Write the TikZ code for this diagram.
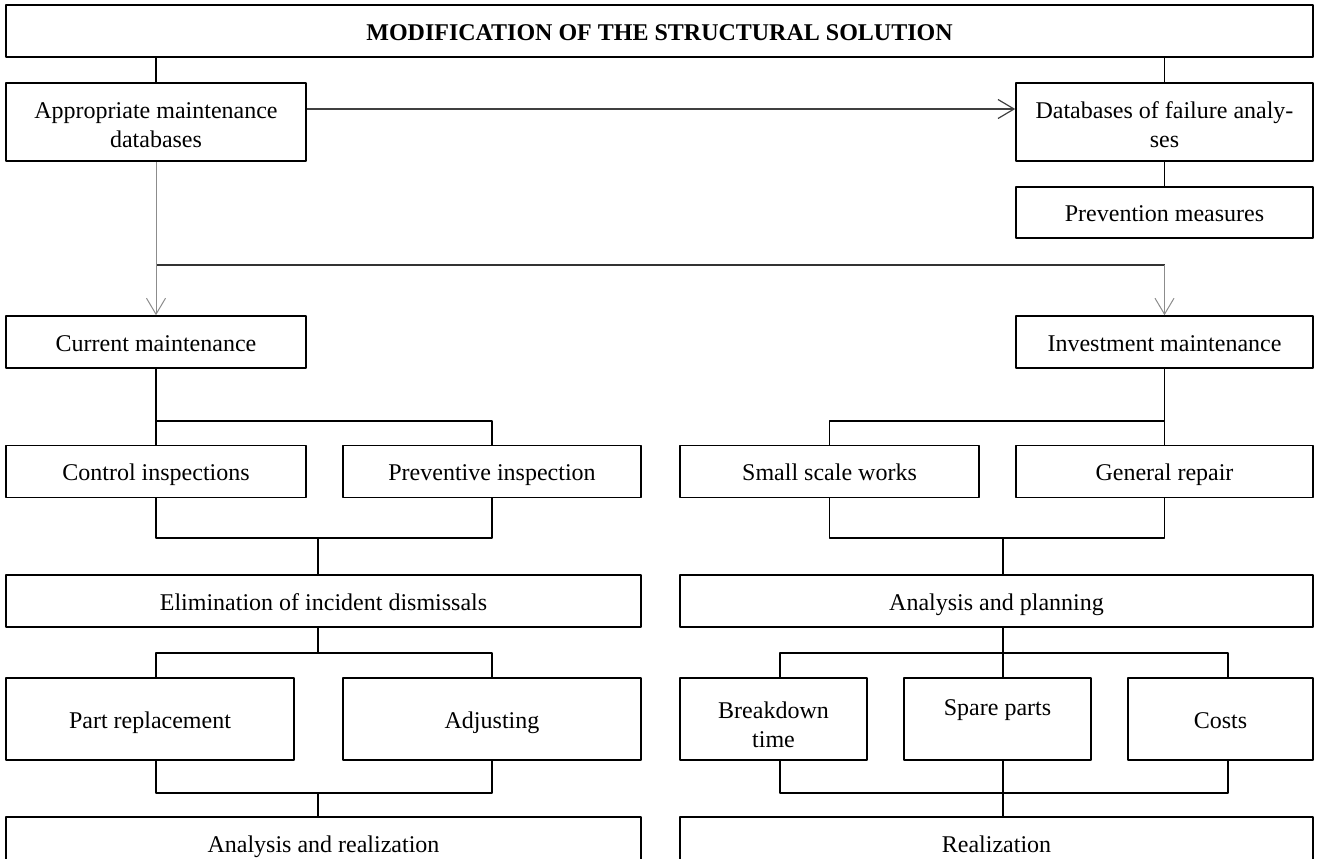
\documentclass[tikz,border=0pt]{standalone}
\usepackage{fontspec}
\setmainfont{Liberation Serif}
\usetikzlibrary{arrows.meta}
\newcommand\tru{\rule[-3pt]{0pt}{15pt}}
\begin{document}
\begin{tikzpicture}[x=.5pt, y=-.5pt, font=\fontsize{12}{14.5}\selectfont, line join=round, >={Straight Barb[length=8pt,width=9.5pt]}]
	\tikzset{hop/.style={draw, line width=.8pt, inner sep=0pt, align=center, minimum height=26pt, execute at begin node=\tru},
		noi/.style={line width=.75pt},
		mui/.style={->, line width=.5pt, black!45}}
	\useasboundingbox (0,0) rectangle (1317,858);
	\def\hh{41pt} % tall boxes
	% boxes
	\node[hop, minimum width=653.5pt] (tit) at (659.5,31) {\textbf{MODIFICATION OF THE STRUCTURAL SOLUTION}};
	\node[hop, minimum width=150pt, minimum height=39pt] (appr) at (156,122) {\rule{0pt}{14pt}Appropriate maintenance\\databases};
	\node[hop, minimum width=148.5pt, minimum height=39pt] (dbf) at (1164.5,122) {\rule{0pt}{14pt}Databases of failure analy-\\ses};
	\node[hop, minimum width=148.5pt, minimum height=25.5pt] (prev) at (1164.5,212.5) {Prevention measures};
	\node[hop, minimum width=150pt] (cur) at (156,342) {Current maintenance};
	\node[hop, minimum width=148.5pt] (inv) at (1164.5,342) {Investment maintenance};
	\node[hop, minimum width=150pt] (ctrl) at (156,471.5) {Control inspections};
	\node[hop, minimum width=149pt] (pins) at (492,471.5) {Preventive inspection};
	\node[hop, minimum width=149.5pt] (small) at (829.5,471.5) {Small scale works};
	\node[hop, minimum width=148.5pt] (gen) at (1164.5,471.5) {General repair};
	\node[hop, minimum width=317.5pt] (elim) at (323.5,601) {Elimination of incident dismissals};
	\node[hop, minimum width=316.5pt] (anpl) at (996.5,601) {Analysis and planning};
	\node[hop, minimum width=144pt, minimum height=\hh] (part) at (150,719) {Part replacement};
	\node[hop, minimum width=149pt, minimum height=\hh] (adj) at (492,719) {Adjusting};
	\node[hop, minimum width=93.5pt, minimum height=\hh] (brk) at (773.5,719) {\raisebox{-2.5pt}[0pt][0pt]{\begin{tabular}{@{}c@{}}Breakdown\\time\end{tabular}}};
	\node[hop, minimum width=93.5pt, minimum height=\hh] (spare) at (997.5,719) {\raisebox{6.5pt}[0pt][0pt]{Spare parts}};
	\node[hop, minimum width=92.5pt, minimum height=\hh] (cost) at (1220.5,719) {Costs};
	\node[hop, minimum width=317.5pt] (anre) at (323.5,843) {Analysis and realization};
	\node[hop, minimum width=316.5pt] (real) at (996.5,843) {Realization};
	% junctions
	\coordinate (jA) at (157,265);
	\coordinate (y1) at (0,421);
	\coordinate (m1) at (318,538);
	\coordinate (m2) at (1003,538);
	\coordinate (m3) at (318,653);
	\coordinate (m4) at (1003,653);
	\coordinate (m5) at (318,793);
	\coordinate (m6) at (1003,793);
	\coordinate (k1) at (780,0);
	\coordinate (k2) at (1228,0);
	% top part
	\draw[noi] (appr.north) -- (appr.north |- tit.south);
	\draw[noi] (dbf.north) -- (dbf.north |- tit.south);
	\draw[->, line width=.6pt, black!75] ([yshift=6.5pt]appr.east) -- ([yshift=6.5pt]dbf.west);
	\draw[noi] (dbf) -- (prev);
	\draw[mui] (appr) -- (cur);
	\draw[line width=.6pt, black!80] (jA) -- (inv.north |- jA);
	\draw[mui] (inv.north |- jA) -- (inv.north);
	% left side
	\draw[noi] (cur) -- (ctrl);
	\draw[noi] (cur.south |- y1) -| (pins.north);
	\draw[noi] (ctrl.south) |- (m1) -| (pins.south);
	\draw[noi] (m1) -- (elim.north -| m1);
	\draw[noi] (elim.south -| m3) -- (m3);
	\draw[noi] (part.north -| ctrl) |- (m3) -| (adj.north);
	\draw[noi] (part.south -| ctrl) |- (m5) -| (adj.south);
	\draw[noi] (m5) -- (anre.north -| m5);
	% right side
	\draw[noi] (inv) -- (gen);
	\draw[noi] (inv.south |- y1) -| (small.north);
	\draw[noi] (small.south) |- (m2) -| (gen.south);
	\draw[noi] (m2) -- (anpl.north -| m2);
	\draw[noi] (anpl.south -| m4) -- (spare.north -| m4);
	\draw[noi] (brk.north -| k1) |- (m4) -| (cost.north -| k2);
	\draw[noi] (brk.south -| k1) |- (m6) -| (cost.south -| k2);
	\draw[noi] (spare.south -| m6) -- (real.north -| m6);
\end{tikzpicture}
\end{document}
